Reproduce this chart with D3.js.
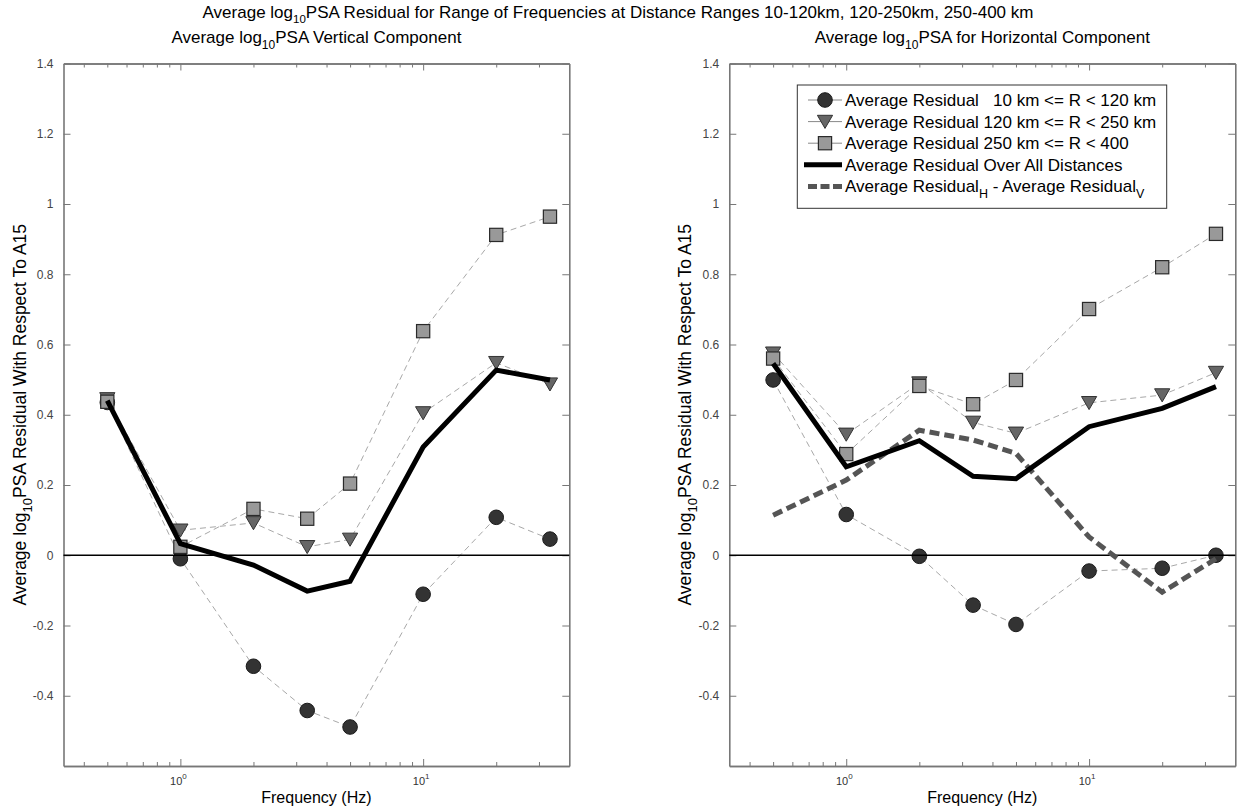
<!DOCTYPE html>
<html><head><meta charset="utf-8">
<script src="https://cdn.jsdelivr.net/npm/d3@7"></script>
<style>
html,body{margin:0;padding:0;background:#fff;}
svg{display:block;font-family:"Liberation Sans",Arial,Helvetica,sans-serif;}
</style></head><body>
<svg id="chart" width="1237" height="810"></svg>
<script>
// Frequencies at which the residuals were averaged (Hz)
const frequencies = [0.5, 1, 2, 3.33, 5, 10, 20, 33.3];

// Vertical component residuals
const vertNear = [0.435, -0.01, -0.316, -0.442, -0.489, -0.111, 0.108, 0.046];
const vertMid  = [0.445, 0.071, 0.092, 0.024, 0.045, 0.405, 0.548, 0.487];
const vertFar  = [0.437, 0.024, 0.132, 0.104, 0.204, 0.638, 0.912, 0.964];
const vertMean = [0.44, 0.033, -0.028, -0.102, -0.074, 0.308, 0.527, 0.499];

// Horizontal component residuals
const horzNear = [0.499, 0.116, -0.003, -0.142, -0.197, -0.045, -0.037, 0.0];
const horzMid  = [0.575, 0.344, 0.49, 0.378, 0.347, 0.434, 0.456, 0.52];
const horzFar  = [0.56, 0.288, 0.482, 0.43, 0.499, 0.701, 0.82, 0.915];
const horzMean = [0.546, 0.252, 0.326, 0.225, 0.218, 0.366, 0.418, 0.48];
const horzMinusVert = [0.114, 0.214, 0.356, 0.328, 0.29, 0.052, -0.105, -0.01];

// Axis ticks
const yTickValues = [-0.4, -0.2, 0, 0.2, 0.4, 0.6, 0.8, 1, 1.2, 1.4];
const yTickLabels = ["-0.4", "-0.2", "0", "0.2", "0.4", "0.6", "0.8", "1", "1.2", "1.4"];
const xMajorTicks = [1, 10];
const xMajorExponents = ["0", "1"];
const xMinorTicks = [0.4, 0.5, 0.6, 0.7, 0.8, 0.9, 2, 3, 4, 5, 6, 7, 8, 9, 20, 30];

// Legend entries
const legendLabels = [
  [{t: "Average Residual   10 km <= R < 120 km"}],
  [{t: "Average Residual 120 km <= R < 250 km"}],
  [{t: "Average Residual 250 km <= R < 400"}],
  [{t: "Average Residual Over All Distances"}],
  [{t: "Average Residual"}, {t: "H", sub: true}, {t: " - Average Residual"}, {t: "V", sub: true}]
];

const svg = d3.select("#chart");
const FONT = '"Liberation Sans", Arial, Helvetica, sans-serif';

// Write text with optional subscript pieces
function richText(sel, parts, size, subSize, shift) {
  sel.attr("xml:space", "preserve").style("white-space", "pre");
  let down = false;
  parts.forEach(p => {
    const ts = sel.append("tspan").text(p.t);
    if (p.sub) {
      ts.attr("font-size", subSize).attr("dy", shift);
      down = true;
    } else {
      ts.attr("font-size", size);
      if (down) { ts.attr("dy", -shift); down = false; }
    }
  });
  return sel;
}

const styles = {
  near: {fill: "#333333", stroke: "#1a1a1a", shape: "circle"},
  mid:  {fill: "#666666", stroke: "#333333", shape: "triangle"},
  far:  {fill: "#999999", stroke: "#2a2a2a", shape: "square"}
};

function drawMarker(g, shape, cx, cy, st) {
  if (shape === "circle") {
    g.append("circle").attr("cx", cx).attr("cy", cy).attr("r", 7.3)
      .attr("fill", st.fill).attr("stroke", st.stroke).attr("stroke-width", 1);
  } else if (shape === "triangle") {
    const p = [[cx - 7.6, cy - 6.3], [cx + 7.6, cy - 6.3], [cx, cy + 6.8]];
    g.append("path").attr("d", "M" + p.join("L") + "Z")
      .attr("fill", st.fill).attr("stroke", st.stroke).attr("stroke-width", 1);
  } else {
    g.append("rect").attr("x", cx - 6.6).attr("y", cy - 6.6).attr("width", 13.2).attr("height", 13.2)
      .attr("fill", st.fill).attr("stroke", st.stroke).attr("stroke-width", 1.2);
  }
}

const plotTop = 63.5, plotBottom = 766;

function drawPanel(x0, x1, title, series, meanVals, diffVals) {
  const g = svg.append("g");
  const x = d3.scaleLog().domain([0.33, 40]).range([x0, x1]);
  const y = d3.scaleLinear().domain([-0.6, 1.4]).range([plotBottom, plotTop]);
  const axisColor = "#777";

  // Axes frame with inward ticks on every side
  const left = g.append("g").attr("transform", `translate(${x0},0)`)
    .call(d3.axisLeft(y).tickValues(yTickValues).tickFormat((d, i) => yTickLabels[i])
      .tickSizeInner(-7).tickSizeOuter(0).tickPadding(10));
  const right = g.append("g").attr("transform", `translate(${x1},0)`)
    .call(d3.axisRight(y).tickValues(yTickValues).tickFormat("").tickSizeInner(-7).tickSizeOuter(0));
  const topMaj = g.append("g").attr("transform", `translate(0,${plotTop})`)
    .call(d3.axisTop(x).tickValues(xMajorTicks).tickFormat("").tickSizeInner(-7).tickSizeOuter(0));
  const topMin = g.append("g").attr("transform", `translate(0,${plotTop})`)
    .call(d3.axisTop(x).tickValues(xMinorTicks).tickFormat("").tickSizeInner(-4).tickSizeOuter(0));
  const botMaj = g.append("g").attr("transform", `translate(0,${plotBottom})`)
    .call(d3.axisBottom(x).tickValues(xMajorTicks).tickFormat("").tickSizeInner(-7).tickSizeOuter(0));
  const botMin = g.append("g").attr("transform", `translate(0,${plotBottom})`)
    .call(d3.axisBottom(x).tickValues(xMinorTicks).tickFormat("").tickSizeInner(-4).tickSizeOuter(0));
  [left, right, topMaj, topMin, botMaj, botMin].forEach(a => {
    a.selectAll(".domain").attr("stroke", axisColor).attr("stroke-width", 1.6);
    a.selectAll(".tick line").attr("stroke", axisColor).attr("stroke-width", 1);
  });
  left.selectAll(".tick text").attr("font-family", FONT).attr("font-size", 12).attr("fill", "#444");

  // Decade labels on the frequency axis
  xMajorTicks.forEach((v, i) => {
    const t = g.append("text").attr("x", x(v) - 2).attr("y", plotBottom + 19)
      .attr("text-anchor", "middle").attr("font-family", FONT).attr("fill", "#333");
    t.append("tspan").attr("font-size", 11).text("10");
    t.append("tspan").attr("font-size", 8).attr("dy", -6).text(xMajorExponents[i]);
  });

  g.append("text").attr("x", (x0 + x1) / 2).attr("y", 803).attr("text-anchor", "middle")
    .attr("font-family", FONT).attr("font-size", 16).attr("fill", "#000").text("Frequency (Hz)");

  const yl = g.append("text")
    .attr("transform", `translate(${x0 - 38},${(plotTop + plotBottom) / 2}) rotate(-90)`)
    .attr("text-anchor", "middle").attr("font-family", FONT).attr("fill", "#000");
  richText(yl, [{t: "Average log"}, {t: "10", sub: true}, {t: "PSA Residual With Respect To A15"}], 17.5, 13, 6);

  const tt = g.append("text").attr("x", (x0 + x1) / 2).attr("y", 43)
    .attr("text-anchor", "middle").attr("font-family", FONT).attr("fill", "#000");
  richText(tt, title, 17, 12, 5.5);

  const plot = g.append("g");
  const line = d3.line().x((d, i) => x(frequencies[i])).y(d => y(d));

  // Distance-bin series: thin grey dashed connectors with markers
  series.forEach(s => {
    plot.append("path").datum(s.values).attr("d", line)
      .attr("fill", "none").attr("stroke", "#a8a8a8").attr("stroke-width", 1)
      .attr("stroke-dasharray", "6,4");
    s.values.forEach((v, i) => drawMarker(plot, styles[s.key].shape, x(frequencies[i]), y(v), styles[s.key]));
  });

  // Zero reference
  plot.append("line").attr("x1", x0).attr("x2", x1).attr("y1", y(0)).attr("y2", y(0))
    .attr("stroke", "#000").attr("stroke-width", 1.6);

  if (diffVals) {
    plot.append("path").datum(diffVals).attr("d", line)
      .attr("fill", "none").attr("stroke", "#555").attr("stroke-width", 5)
      .attr("stroke-dasharray", "10,5");
  }
  plot.append("path").datum(meanVals).attr("d", line)
    .attr("fill", "none").attr("stroke", "#000").attr("stroke-width", 5)
    .attr("stroke-linejoin", "miter");
}

// Overall title
const mt = svg.append("text").attr("x", 618).attr("y", 18).attr("text-anchor", "middle")
  .attr("font-family", FONT).attr("fill", "#000");
richText(mt, [{t: "Average log"}, {t: "10", sub: true},
  {t: "PSA Residual for Range of Frequencies at Distance Ranges 10-120km, 120-250km, 250-400 km"}], 17, 11.5, 4.5);

drawPanel(63.5, 569.3,
  [{t: "Average log"}, {t: "10", sub: true}, {t: "PSA Vertical Component"}],
  [{key: "near", values: vertNear}, {key: "mid", values: vertMid}, {key: "far", values: vertFar}],
  vertMean, null);

drawPanel(729.3, 1235.3,
  [{t: "Average log"}, {t: "10", sub: true}, {t: "PSA for Horizontal Component"}],
  [{key: "near", values: horzNear}, {key: "mid", values: horzMid}, {key: "far", values: horzFar}],
  horzMean, horzMinusVert);

// Legend
const lg = svg.append("g");
lg.append("rect").attr("x", 797.3).attr("y", 85).attr("width", 369.4).attr("height", 123.3)
  .attr("fill", "#fff").attr("stroke", "#333").attr("stroke-width", 1);
const rowY = [100, 121.6, 143.2, 164.8, 186.4];
const keys = ["near", "mid", "far"];
rowY.forEach((ry, i) => {
  if (i < 3) {
    lg.append("line").attr("x1", 808).attr("x2", 842).attr("y1", ry).attr("y2", ry)
      .attr("stroke", "#888").attr("stroke-width", 1);
    drawMarker(lg, styles[keys[i]].shape, 825, ry, styles[keys[i]]);
  } else if (i === 3) {
    lg.append("line").attr("x1", 804).attr("x2", 842).attr("y1", ry).attr("y2", ry)
      .attr("stroke", "#000").attr("stroke-width", 5);
  } else {
    lg.append("line").attr("x1", 808).attr("x2", 842).attr("y1", ry).attr("y2", ry)
      .attr("stroke", "#555").attr("stroke-width", 5).attr("stroke-dasharray", "9,3.5");
  }
  const t = lg.append("text").attr("x", 845).attr("y", ry + 6).attr("font-family", FONT).attr("fill", "#000");
  richText(t, legendLabels[i], 17, 12.5, 6);
});
</script>
</body></html>
